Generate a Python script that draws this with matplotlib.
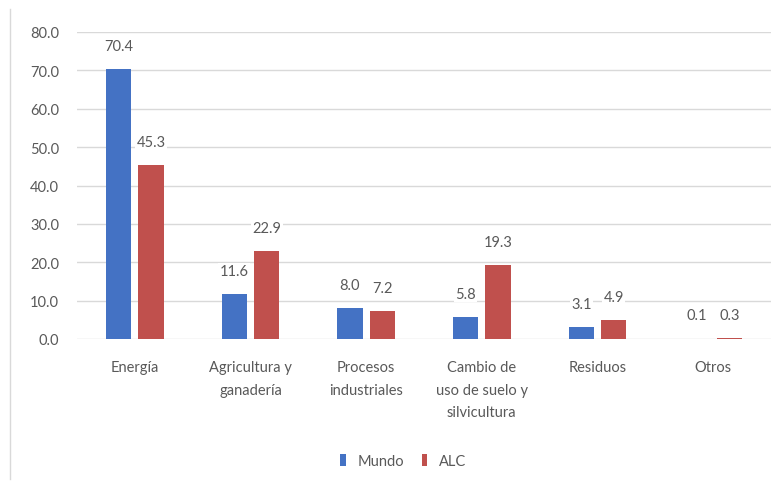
import matplotlib.pyplot as plt
import numpy as np

# Emisiones por sector (%), Mundo vs ALC
categories = ["Energía", "Agricultura y\nganadería", "Procesos\nindustriales",
              "Cambio de\nuso de suelo y\nsilvicultura", "Residuos", "Otros"]
mundo = [70.4, 11.6, 8.0, 5.8, 3.1, 0.1]
alc = [45.3, 22.9, 7.2, 19.3, 4.9, 0.3]
series_names = ["Mundo", "ALC"]

blue = "#4472C4"
red = "#C0504D"
grey = "#595959"

plt.rcParams['font.family'] = ['Lato', 'DejaVu Sans']

fig = plt.figure(figsize=(7.83, 4.89), dpi=100)
ax = fig.add_axes([77 / 783, 1 - 340 / 489, 694 / 783, 307 / 489])

x = np.arange(len(categories))
w = 0.22
off = 0.14
b1 = ax.bar(x - off, mundo, w, color=blue, label=series_names[0], zorder=3)
b2 = ax.bar(x + off, alc, w, color=red, label=series_names[1], zorder=3)

for bars, vals in ((b1, mundo), (b2, alc)):
    for rect, v in zip(bars, vals):
        ax.text(rect.get_x() + rect.get_width() / 2, v + 4.2, f"{v:.1f}",
                ha="center", va="bottom", fontsize=10.5, color=grey,
                bbox=dict(facecolor="white", edgecolor="none", pad=1), zorder=4)

ax.set_xlim(-0.5, len(categories) - 0.5)
ax.set_ylim(0, 80)
ax.set_yticks(np.arange(0, 81, 10))
ax.set_yticklabels([f"{t:.1f}" for t in np.arange(0, 81, 10)])
ax.set_xticks(x)
ax.set_xticklabels(categories, va="top", linespacing=1.8)
ax.tick_params(axis="both", length=0, colors=grey, labelsize=10.5)
ax.tick_params(axis="x", pad=15)
ax.tick_params(axis="y", pad=13)
ax.grid(axis="y", color="#D9D9D9", linewidth=1, zorder=0)
for s in ax.spines.values():
    s.set_visible(False)

ax.legend(loc="center", bbox_to_anchor=(0.47, -0.397), ncol=2, frameon=False,
          fontsize=10.5, labelcolor=grey, handlelength=0.4, handleheight=0.9,
          columnspacing=1.2, handletextpad=0.8)

# marco exterior del gráfico
fig.add_artist(plt.Line2D([10 / 783, 10 / 783], [1 - 480 / 489, 1 - 10 / 489],
                          color="#D9D9D9", linewidth=1))

fig.savefig("out.png", dpi=100)
